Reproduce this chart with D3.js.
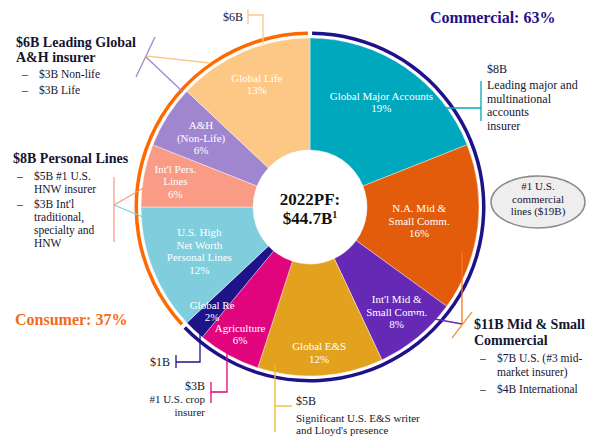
<!DOCTYPE html>
<html><head><meta charset="utf-8">
<script src="https://cdn.jsdelivr.net/npm/d3@7"></script>
<style>
html,body{margin:0;padding:0;background:#fff;}
svg{display:block;font-family:"Liberation Serif","DejaVu Serif",serif;}
</style></head>
<body><svg id="chart" width="597" height="445"></svg>
<script>
// ---------------- DATA ----------------
const categories = ["Global Major Accounts","N.A. Mid & Small Comm.","Int'l Mid & Small Comm.","Global E&S","Agriculture","Global Re","U.S. High Net Worth Personal Lines","Int'l Pers. Lines","A&H (Non-Life)","Global Life"];
const shares = [19,16,8,12,6,2,12,6,6,13];
const labelLines = [["Global Major Accounts"],["N.A. Mid &","Small Comm."],["Int'l Mid &","Small Comm."],["Global E&S"],["Agriculture"],["Global Re"],["U.S. High","Net Worth","Personal Lines"],["Int'l Pers.","Lines"],["A&H","(Non-Life)"],["Global Life"]];
const segments = ["Commercial","Consumer"];
const segmentShares = [63,37];
const centerTitle = ["2022PF:","$44.7B"];

// ---------------- STYLE / LAYOUT ----------------
const sliceColors = ["#00A8BD","#E35C0C","#6629B5","#E3A21E","#E0057C","#1E1388","#80CEDD","#F99B85","#A086CF","#FDC885"];
const segmentColors = ["#1E1288","#FF6A00"];
const labelRadius = [127,110,136,146,145,143,119,137,129,134];
const cx = 310, cy = 207, R = 169, R0 = 57;

const svg = d3.select("#chart");
const g = svg.append("g").attr("transform",`translate(${cx},${cy})`);

const pie = d3.pie().sort(null).value(d=>d);
const arcs = pie(shares);
const arc = d3.arc().innerRadius(R0).outerRadius(R);

g.selectAll("path.slice").data(arcs).enter().append("path")
  .attr("class","slice").attr("d",arc)
  .attr("fill",(d,i)=>sliceColors[i]).attr("stroke","#fff").attr("stroke-width",0.4);

// outer segment ring
const segArcs = pie(segmentShares);
const ring = d3.arc().innerRadius(R+3).outerRadius(R+6.5);
g.selectAll("path.ring").data(segArcs).enter().append("path")
  .attr("d",d=>ring({startAngle:d.startAngle+0.012,endAngle:d.endAngle-0.012}))
  .attr("fill",(d,i)=>segmentColors[i]);

// slice labels
arcs.forEach((d,i)=>{
  const a = (d.startAngle+d.endAngle)/2, r = labelRadius[i];
  const x = r*Math.sin(a), y = -r*Math.cos(a);
  const lines = labelLines[i].concat([shares[i]+"%"]);
  const lh = 12.5;
  const t = g.append("text").attr("text-anchor","middle").attr("fill","#fff")
    .attr("font-size",11);
  lines.forEach((s,k)=>{
    t.append("tspan").attr("x",x).attr("y",y - (lines.length-1)*lh/2 + k*lh + 4).text(s);
  });
});

// center
g.append("text").attr("text-anchor","middle").attr("y",-2).attr("font-size",17).attr("font-weight","bold").attr("fill","#111").text(centerTitle[0]);
const ct = g.append("text").attr("text-anchor","middle").attr("y",17).attr("font-size",17).attr("font-weight","bold").attr("fill","#111");
ct.append("tspan").text(centerTitle[1]);
ct.append("tspan").attr("font-size",10).attr("dy",-6).text("1");

// segment titles
svg.append("text").attr("x",430).attr("y",23).attr("font-size",16).attr("font-weight","bold").attr("fill",segmentColors[0]).text(`${segments[0]}: ${segmentShares[0]}%`);
svg.append("text").attr("x",15).attr("y",325).attr("font-size",16).attr("font-weight","bold").attr("fill","#F26A1B").text(`${segments[1]}: ${segmentShares[1]}%`);

// ---------------- ANNOTATIONS ----------------
const ink = "#151530";
function line(pts,color,w){ svg.append("path").attr("d",d3.line()(pts)).attr("fill","none").attr("stroke",color).attr("stroke-width",w||1.3); }
function txt(x,y,s,o){ o=o||{}; svg.append("text").attr("x",x).attr("y",y).attr("font-size",o.size||11.5)
  .attr("font-weight",o.bold?"bold":"normal").attr("text-anchor",o.anchor||"start").attr("fill",o.color||ink).text(s); }

// $6B Global Life (top)
txt(243,21,"$6B",{anchor:"end",size:12});
line([[248,9],[248,24]],sliceColors[9]);
line([[248,15],[263,15],[263,44]],sliceColors[9]);

// $6B Leading Global A&H insurer
txt(16,47,"$6B Leading Global",{bold:true,size:14});
txt(16,62,"A&H insurer",{bold:true,size:14});
txt(22,78,"–"); txt(39,78,"$3B Non-life");
txt(22,94,"–"); txt(39,94,"$3B Life");
line([[136,77],[155,37]],sliceColors[8]);
line([[146,57],[183,92]],sliceColors[8]);
line([[146,56],[210,63]],sliceColors[9]);

// $8B Personal Lines
txt(13,163,"$8B Personal Lines",{bold:true,size:14});
txt(17,180,"–"); txt(34,180,"$5B #1 U.S.");
txt(34,193,"HNW insurer");
txt(17,208,"–"); txt(34,208,"$3B Int'l");
txt(34,221,"traditional,");
txt(34,234,"specialty and");
txt(34,247,"HNW");
line([[114,177],[114,242]],sliceColors[7]);
line([[114,205],[152,183]],sliceColors[7]);
line([[114,205],[143,217]],sliceColors[6]);

// $8B Global Major Accounts
txt(487,73,"$8B",{size:12});
["Leading major and","multinational","accounts","insurer"].forEach((s,k)=>txt(487,89+k*13.5,s,{size:12}));
line([[481,81],[481,121]],sliceColors[0]);
line([[433,108],[481,108]],sliceColors[0]);

// #1 U.S. commercial lines
svg.append("ellipse").attr("cx",538).attr("cy",202).attr("rx",47).attr("ry",26)
  .attr("fill","#EEEEEE").attr("stroke","#8A8A8A").attr("stroke-width",1.5);
["#1 U.S.","commercial","lines ($19B)"].forEach((s,k)=>txt(538,190+k*12.5,s,{anchor:"middle",size:11}));

// $11B Mid & Small Commercial
txt(474,329,"$11B Mid & Small",{bold:true,size:14});
txt(474,345,"Commercial",{bold:true,size:14});
txt(480,362,"–"); txt(497,362,"$7B U.S. (#3 mid-");
txt(497,376,"market insurer)");
txt(480,393,"–"); txt(497,393,"$4B International");
line([[462,252],[462,324]],"#F07A2A");
line([[413,315],[462,324]],sliceColors[2]);
line([[472,312],[452,338]],"#F39A3A");

// $1B Global Re
txt(170,366,"$1B",{anchor:"end",size:12});
line([[176,355],[176,368]],sliceColors[5]);
line([[176,362],[200,362],[200,327]],sliceColors[5]);

// $3B Agriculture
txt(205,390,"$3B",{anchor:"end",size:12});
txt(205,403,"#1 U.S. crop",{anchor:"end",size:11});
txt(205,415.5,"insurer",{anchor:"end",size:11});
line([[211,382],[211,403]],sliceColors[4]);
line([[211,392],[227,392],[227,349]],sliceColors[4]);

// $5B Global E&S
txt(296,405,"$5B",{size:12});
txt(296,421.5,"Significant U.S. E&S writer",{size:11});
txt(296,434,"and Lloyd's presence",{size:11});
line([[275,364],[275,432]],"#F5B52A");
line([[275,406],[292,406]],"#F5B52A");
</script></body></html>
